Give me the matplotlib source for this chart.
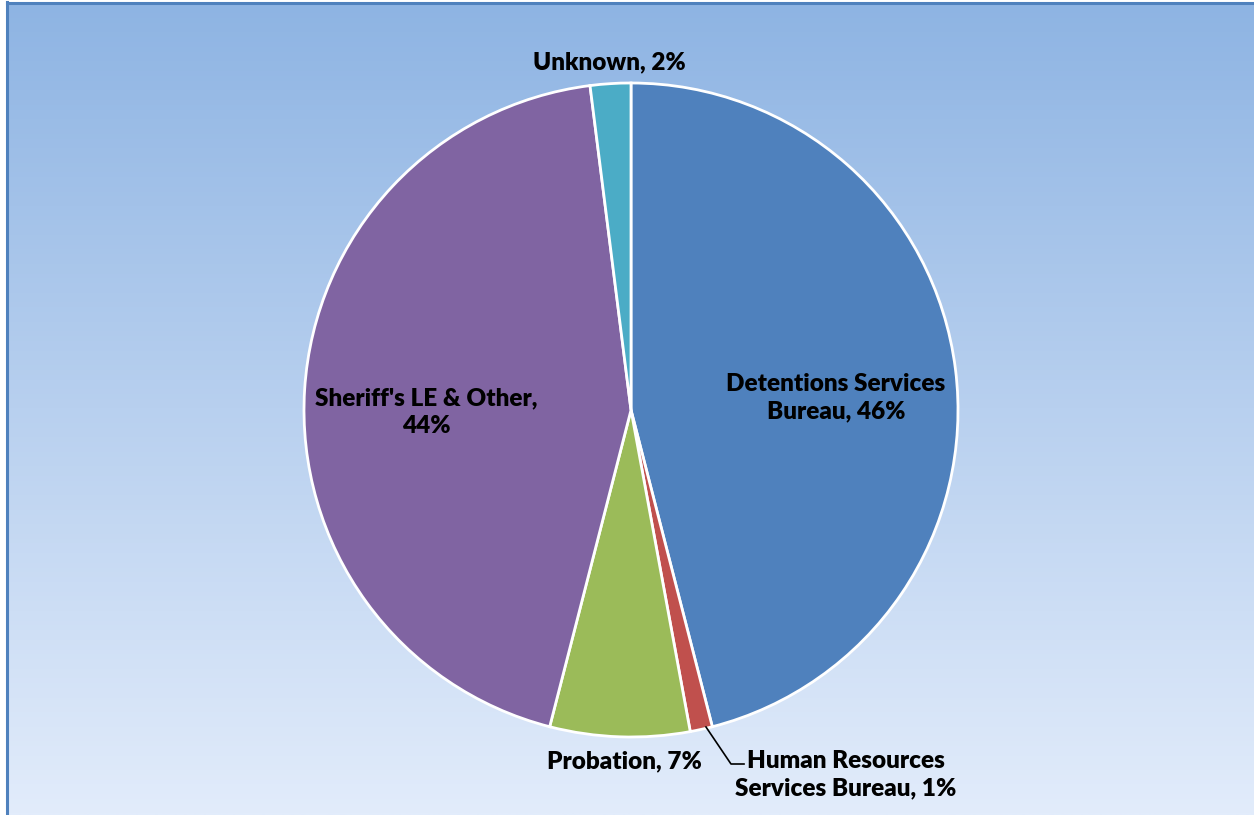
import matplotlib
matplotlib.use("Agg")
import matplotlib.pyplot as plt
import numpy as np
from matplotlib.lines import Line2D

categories = ["Detentions Services Bureau", "Human Resources Services Bureau",
              "Probation", "Sheriff's LE & Other", "Unknown"]
values = [46.0, 1.1, 6.9, 44.0, 2.0]
labels = ["Detentions Services\nBureau, 46%", "Human Resources\nServices Bureau, 1%",
          "Probation, 7%", "Sheriff's LE & Other,\n44%", "Unknown, 2%"]
colors = ["#4F81BD", "#C0504D", "#9BBB59", "#8064A2", "#4BACC6"]

W, H = 1254, 815
fig = plt.figure(figsize=(W / 100, H / 100), dpi=100)
fig.patch.set_facecolor("white")
ax = fig.add_axes([0, 0, 1, 1])
ax.set_xlim(0, W)
ax.set_ylim(0, H)
ax.axis("off")

# gradient background
top = np.array([142, 180, 227]) / 255
bot = np.array([226, 236, 251]) / 255
t = np.linspace(0, 1, 256)[:, None]
grad = top[None, :] * (1 - t) + bot[None, :] * t
img = np.repeat(grad[:, None, :], 2, axis=1)
ax.imshow(img, extent=[7, W, 0, H - 2], aspect="auto", zorder=0, interpolation="bilinear")
ax.add_line(Line2D([7, 7], [0, H - 2], color="#4F81BD", lw=2.2, zorder=1))
ax.add_line(Line2D([7, W], [H - 2.5, H - 2.5], color="#4F81BD", lw=2.2, zorder=1))

cx, cy, r = 631, H - 410, 327
wedges, _ = ax.pie(values, colors=colors, startangle=90, counterclock=False,
                   center=(cx, cy), radius=r, frame=True,
                   wedgeprops=dict(edgecolor="white", linewidth=2))
for w in wedges:
    w.set_zorder(2)
ax.set_xlim(0, W)
ax.set_ylim(0, H)
ax.set_aspect("equal")
ax.axis("off")

font = dict(family=["Lato", "DejaVu Sans"], fontweight="heavy", fontsize=17.5, color="black",
            zorder=3, linespacing=1.3)
pos = [(836, 398, "center"), (735, 775, "left"), (624, 761, "center"),
       (426, 412, "center"), (609, 62, "center")]
for (x, y, ha), lab in zip(pos, labels):
    ax.text(x, H - y, lab, ha=ha, va="center", multialignment="center", **font)

# leader line for HR
ax.add_line(Line2D([706, 731, 744], [H - 727, H - 764, H - 764], color="black", lw=1.2, zorder=3))

fig.savefig("out.png", dpi=100, facecolor="white")
